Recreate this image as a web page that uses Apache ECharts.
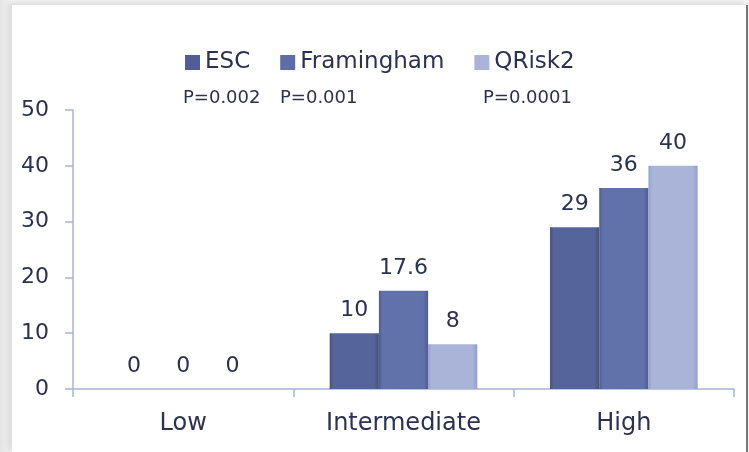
<!DOCTYPE html>
<html>
<head>
<meta charset="utf-8">
<script src="https://cdn.jsdelivr.net/npm/echarts@6/dist/echarts.min.js"></script>
<style>
  html, body { margin: 0; padding: 0; width: 749px; height: 452px; overflow: hidden; }
  body { background: linear-gradient(to right, #e4e4e4, #f4f4f4 12px, #f4f4f4); }
  #chart {
    position: absolute; left: 12px; top: 5px; width: 734px; height: 447px;
    background: #fff; box-shadow: -3px -2px 6px rgba(0,0,0,0.12);
    border-right: 2px solid #777;
  }
</style>
</head>
<body>
<div id="chart"></div>
<script>
// data
const categories = ['Low', 'Intermediate', 'High']
const seriesNames = ['ESC', 'Framingham', 'QRisk2']
const escValues = [0, 10, 29]
const framinghamValues = [0, 17.6, 36]
const qriskValues = [0, 8, 40]
const pValues = ['P=0.002', 'P=0.001', 'P=0.0001']
const yTicks = [0, 10, 20, 30, 40, 50]

const textColor = '#2c3150'
const font = 'DejaVu Sans'

// bars look slightly bevelled in the original
function barColor (c1, c2) {
  return new echarts.graphic.LinearGradient(0, 0, 1, 0, [
    { offset: 0, color: c2 },
    { offset: 0.07, color: c1 },
    { offset: 0.9, color: c1 },
    { offset: 1, color: c2 }
  ])
}

const chart = echarts.init(document.getElementById('chart'))

const palette = [
  barColor('#55649a', '#44527f'),
  barColor('#6171a9', '#4e5c8e'),
  barColor('#aab4d9', '#929fcb')
]
const legendColors = ['#4f5e94', '#5d6da5', '#aab4d9']

const values = [escValues, framinghamValues, qriskValues]

const option = {
  backgroundColor: 'transparent',
  textStyle: { fontFamily: font },
  animation: false,
  legend: {
    left: 168,
    top: 41,
    itemWidth: 15,
    itemHeight: 15,
    itemGap: 30,
    icon: 'rect',
    textStyle: { fontSize: 23, color: textColor, fontFamily: font },
    data: seriesNames.map((n, i) => ({ name: n, itemStyle: { color: legendColors[i] } }))
  },
  graphic: [
    { type: 'text', left: 171, top: 84, style: { text: pValues[0], fontSize: 18, fill: textColor, fontFamily: font } },
    { type: 'text', left: 268, top: 84, style: { text: pValues[1], fontSize: 18, fill: textColor, fontFamily: font } },
    { type: 'text', left: 471, top: 84, style: { text: pValues[2], fontSize: 18, fill: textColor, fontFamily: font } }
  ],
  grid: {
    left: 61,
    right: 12,
    top: 105,
    bottom: 63
  },
  xAxis: {
    type: 'category',
    data: categories,
    axisLine: { lineStyle: { color: '#a9b3d8', width: 1.5 } },
    axisTick: { show: true, length: 8, lineStyle: { color: '#a9b3d8', width: 1.5 } },
    axisLabel: { fontSize: 24, color: textColor, margin: 23, fontFamily: font }
  },
  yAxis: {
    type: 'value',
    min: 0,
    max: 50,
    interval: 10,
    axisLine: { show: true, lineStyle: { color: '#a9b3d8', width: 1.5 } },
    axisTick: { show: true, length: 8, lineStyle: { color: '#a9b3d8', width: 1.5 } },
    axisLabel: {
      fontSize: 22, color: textColor, margin: 24, fontFamily: font,
      formatter: v => (yTicks.includes(v) ? String(v) : '')
    },
    splitLine: { show: false }
  },
  series: seriesNames.map((name, i) => ({
    name: name,
    type: 'bar',
    data: values[i],
    barGap: '0%',
    barCategoryGap: '33%',
    itemStyle: { color: palette[i] },
    label: {
      show: true,
      position: 'top',
      distance: 12,
      fontSize: 22,
      color: textColor,
      fontFamily: font
    }
  }))
}

chart.setOption(option)
</script>
</body>
</html>
